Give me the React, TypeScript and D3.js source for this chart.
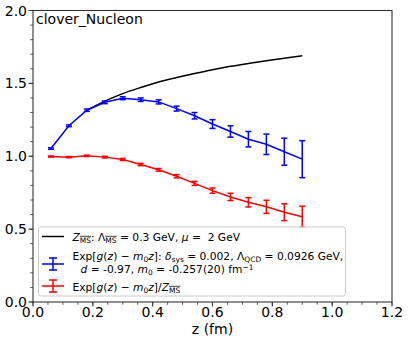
import React from 'react';
import * as d3 from 'd3';

const zPoints = [0.06, 0.12, 0.18, 0.24, 0.3, 0.36, 0.42, 0.48, 0.54, 0.6, 0.66, 0.72, 0.78, 0.84, 0.9];
const expValues = [1.053, 1.209, 1.316, 1.37, 1.398, 1.388, 1.373, 1.327, 1.278, 1.221, 1.17, 1.117, 1.082, 1.031, 0.98];
const expErrors = [0.005, 0.006, 0.008, 0.009, 0.01, 0.012, 0.014, 0.017, 0.022, 0.03, 0.039, 0.053, 0.07, 0.093, 0.127];
const ratioValues = [0.998, 0.994, 1.003, 0.994, 0.978, 0.943, 0.907, 0.863, 0.814, 0.764, 0.721, 0.684, 0.653, 0.616, 0.585];
const ratioErrors = [0.004, 0.004, 0.005, 0.006, 0.007, 0.008, 0.009, 0.011, 0.014, 0.018, 0.025, 0.032, 0.045, 0.058, 0.072];

const zCurve = [0.18, 0.24, 0.3, 0.36, 0.42, 0.48, 0.54, 0.6, 0.66, 0.72, 0.78, 0.84, 0.9];
const zmsValues = [1.315, 1.378, 1.43, 1.472, 1.51, 1.54, 1.568, 1.594, 1.617, 1.637, 1.656, 1.673, 1.689];

const xTicks = [0, 0.2, 0.4, 0.6, 0.8, 1.0, 1.2];
const yTicks = [0, 0.5, 1.0, 1.5, 2.0];
const xMinor = d3.range(0, 1.2001, 0.05);
const yMinor = d3.range(0, 2.0001, 0.1);

type Part = { t: string; it?: boolean; sub?: boolean; sup?: boolean; ov?: boolean };

// renders mathtext-ish label pieces as tspans
const MathText = ({ x, y, parts, size }: { x: number; y: number; parts: Part[]; size: number }) => {
  let shift = 0;
  return (
    <text x={x} y={y} fontSize={size} fill="#000" xmlSpace="preserve">
      {parts.map((p, i) => {
        const target = p.sub ? size * 0.22 : p.sup ? -size * 0.32 : 0;
        const dy = target - shift;
        shift = target;
        return (
          <tspan
            key={i}
            dy={dy}
            fontStyle={p.it ? 'italic' : 'normal'}
            fontSize={p.sub || p.sup ? size * 0.7 : size}
            style={p.ov ? { textDecoration: 'overline' } : undefined}
          >
            {p.t}
          </tspan>
        );
      })}
    </text>
  );
};

const App = () => {
  const width = 409;
  const height = 343;
  const left = 33, right = 392, top = 10.5, bottom = 302;

  const x = d3.scaleLinear().domain([0, 1.2]).range([left, right]);
  const y = d3.scaleLinear().domain([0, 2]).range([bottom, top]);

  const line = d3.line<[number, number]>().x(d => x(d[0])).y(d => y(d[1]));
  const curve = d3.line<[number, number]>().x(d => x(d[0])).y(d => y(d[1])).curve(d3.curveMonotoneX);

  const expPath = line(zPoints.map((z, i) => [z, expValues[i]]));
  const ratioPath = line(zPoints.map((z, i) => [z, ratioValues[i]]));
  const zmsPath = curve(zCurve.map((z, i) => [z, zmsValues[i]]));

  const errorBars = (vals: number[], errs: number[], color: string) =>
    zPoints.map((z, i) => {
      const cx = x(z);
      const y0 = y(vals[i] - errs[i]);
      const y1 = y(vals[i] + errs[i]);
      return (
        <g key={`${color}-${i}`} stroke={color} strokeWidth={1.5}>
          <line x1={cx} x2={cx} y1={y0} y2={y1} />
          <line x1={cx - 3} x2={cx + 3} y1={y0} y2={y0} />
          <line x1={cx - 3} x2={cx + 3} y1={y1} y2={y1} />
        </g>
      );
    });

  const fs = 10.7;
  const legendX = 72.5;

  const handle = (cy: number, color: string, bar: boolean) => (
    <g stroke={color} strokeWidth={1.5}>
      <line x1={42} x2={64} y1={cy} y2={cy} />
      {bar && (
        <>
          <line x1={53} x2={53} y1={cy - 6} y2={cy + 6} />
          <line x1={49} x2={57} y1={cy - 6} y2={cy - 6} />
          <line x1={49} x2={57} y1={cy + 6} y2={cy + 6} />
        </>
      )}
    </g>
  );

  return (
    <svg width={width} height={height} style={{ position: 'absolute', left: 0, top: 0, fontFamily: 'DejaVu Sans' }}>
      <rect width={width} height={height} fill="#fff" />

      {/* data */}
      <path d={zmsPath ?? ''} fill="none" stroke="#000" strokeWidth={1.5} />
      <path d={expPath ?? ''} fill="none" stroke="blue" strokeWidth={1.5} />
      {errorBars(expValues, expErrors, 'blue')}
      <path d={ratioPath ?? ''} fill="none" stroke="red" strokeWidth={1.5} />
      {errorBars(ratioValues, ratioErrors, 'red')}

      {/* axes frame */}
      <rect x={left} y={top} width={right - left} height={bottom - top} fill="none" stroke="#333" strokeWidth={1.1} />

      {xMinor.map(t => (
        <line key={`xm${t}`} x1={x(t)} x2={x(t)} y1={bottom} y2={bottom + 2.8} stroke="#333" strokeWidth={0.8} />
      ))}
      {yMinor.map(t => (
        <line key={`ym${t}`} x1={left} x2={left - 2.8} y1={y(t)} y2={y(t)} stroke="#333" strokeWidth={0.8} />
      ))}
      {xTicks.map(t => (
        <g key={`x${t}`}>
          <line x1={x(t)} x2={x(t)} y1={bottom} y2={bottom + 4.5} stroke="#333" strokeWidth={1.1} />
          <text x={x(t)} y={317} textAnchor="middle" fontSize={14}>{t.toFixed(1)}</text>
        </g>
      ))}
      {yTicks.map(t => (
        <g key={`y${t}`}>
          <line x1={left} x2={left - 4.5} y1={y(t)} y2={y(t)} stroke="#333" strokeWidth={1.1} />
          <text x={27} y={y(t)} dy="0.36em" textAnchor="end" fontSize={14}>{t.toFixed(1)}</text>
        </g>
      ))}

      <text x={(left + right) / 2} y={333.5} textAnchor="middle" fontSize={14}>z (fm)</text>
      <text x={36} y={23.5} fontSize={14}>clover_Nucleon</text>

      {/* legend */}
      <rect x={38.5} y={227} width={307} height={69} rx={2.5} fill="#fff" fillOpacity={0.8} stroke="#ccc" strokeWidth={1} />
      {handle(236.5, '#000', false)}
      {handle(264, 'blue', true)}
      {handle(286, 'red', true)}

      <MathText x={legendX} y={240.5} size={fs} parts={[
        { t: 'Z', it: true }, { t: 'MS', sub: true, ov: true }, { t: ': Λ' }, { t: 'MS', sub: true, ov: true },
        { t: ' = 0.3 GeV, ' }, { t: 'μ', it: true }, { t: ' =\u00a0\u00a02 GeV' },
      ]} />
      <MathText x={legendX} y={259.5} size={fs} parts={[
        { t: 'Exp[' }, { t: 'g', it: true }, { t: '(' }, { t: 'z', it: true }, { t: ') − ' }, { t: 'm', it: true },
        { t: '0', sub: true }, { t: 'z', it: true }, { t: ']: ' }, { t: 'δ', it: true }, { t: 'sys', sub: true },
        { t: ' = 0.002, Λ' }, { t: 'QCD', sub: true }, { t: ' = 0.0926 GeV,' },
      ]} />
      <MathText x={80.5} y={273} size={fs} parts={[
        { t: 'd', it: true }, { t: ' = -0.97, ' }, { t: 'm', it: true }, { t: '0', sub: true },
        { t: ' = -0.257(20) fm' }, { t: '−1', sup: true },
      ]} />
      <MathText x={legendX} y={290.5} size={fs} parts={[
        { t: 'Exp[' }, { t: 'g', it: true }, { t: '(' }, { t: 'z', it: true }, { t: ') − ' }, { t: 'm', it: true },
        { t: '0', sub: true }, { t: 'z', it: true }, { t: ']/' }, { t: 'Z', it: true }, { t: 'MS', sub: true, ov: true },
      ]} />
    </svg>
  );
};

export default App;
